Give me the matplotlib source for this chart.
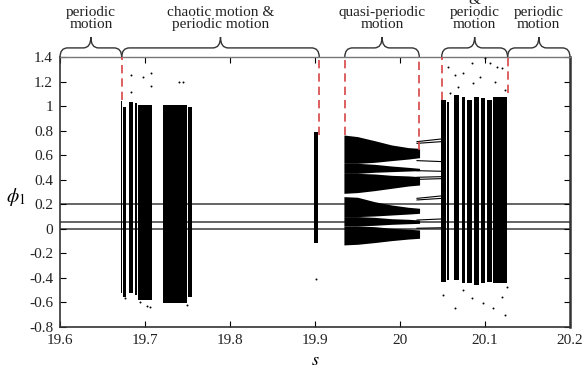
import numpy as np
import matplotlib
matplotlib.use('Agg')
import matplotlib.pyplot as plt
from matplotlib.path import Path
from matplotlib.patches import PathPatch
from matplotlib.ticker import FuncFormatter

plt.rcParams['font.family'] = 'Liberation Serif'
plt.rcParams['mathtext.fontset'] = 'stix'
plt.rcParams['axes.unicode_minus'] = False

# periodic solutions running across the whole range of s
periodic_levels = [0.2, 0.06, 0.0]

# chaotic bands: s start, s end, lowest and highest phi1
band_start = [19.6720, 19.6745, 19.6816, 19.6878, 19.6914, 19.7216, 19.7510, 19.8988,
              20.0478, 20.0549, 20.0635, 20.0725, 20.0784, 20.0875, 20.0949, 20.1020, 20.1098]
band_end = [19.6733, 19.6773, 19.6863, 19.6902, 19.7078, 19.7498, 19.7549, 19.9039,
            20.0537, 20.0573, 20.0698, 20.0765, 20.0851, 20.0933, 20.1000, 20.1078, 20.1263]
band_low = [-0.525, -0.552, -0.525, -0.539, -0.580, -0.607, -0.552, -0.117,
            -0.430, -0.416, -0.416, -0.444, -0.444, -0.457, -0.444, -0.430, -0.444]
band_high = [1.047, 0.999, 1.039, 1.026, 1.012, 1.012, 0.999, 0.794,
             1.053, 1.040, 1.094, 1.080, 1.053, 1.080, 1.067, 1.053, 1.080]

# scattered points outside the dense bands
dot_s = [19.9012, 19.6832, 19.6980, 19.7067, 19.7067, 19.7400, 19.6832, 19.7447,
         19.6941, 19.7020, 19.7059, 19.7490, 19.6765,
         20.0569, 20.0843, 20.1000, 20.1059, 20.1137, 20.1196, 20.0647, 20.0745,
         20.0941, 20.0863, 20.0686, 20.1118, 20.1235, 20.0588,
         20.0647, 20.0843, 20.1098, 20.1196, 20.0510, 20.0980, 20.0745, 20.1255, 20.1235]
dot_phi = [-0.408, 1.257, 1.243, 1.271, 1.167, 1.202, 1.121, 1.200,
           -0.594, -0.629, -0.634, -0.620, -0.566,
           1.325, 1.352, 1.393, 1.352, 1.325, 1.312, 1.257, 1.271,
           1.243, 1.189, 1.162, 1.202, 1.135, 1.108,
           -0.647, -0.566, -0.647, -0.553, -0.539, -0.607, -0.498, -0.471, -0.700]

# quasi-periodic region: envelopes of the six sub-bands
s_q = [19.934, 19.95, 19.97, 19.99, 20.01, 20.023]
qa_hi = [0.767, 0.754, 0.721, 0.686, 0.664, 0.658]
qa_lo = [0.536, 0.536, 0.544, 0.558, 0.571, 0.582]
qb_hi = [0.536, 0.536, 0.528, 0.514, 0.503, 0.495]
qb_lo = [0.454, 0.454, 0.463, 0.468, 0.473, 0.476]
qc_hi = [0.454, 0.454, 0.449, 0.438, 0.433, 0.427]
qc_lo = [0.291, 0.297, 0.313, 0.332, 0.351, 0.359]
qd_hi = [0.264, 0.259, 0.223, 0.196, 0.177, 0.169]
qd_lo = [0.101, 0.101, 0.106, 0.114, 0.122, 0.128]
qe_hi = [0.101, 0.101, 0.095, 0.084, 0.079, 0.073]
qe_lo = [0.025, 0.025, 0.030, 0.038, 0.043, 0.046]
qf_hi = [0.025, 0.025, 0.019, 0.006, -0.002, -0.008]
qf_lo = [-0.130, -0.125, -0.111, -0.095, -0.082, -0.076]

# short periodic branches before the last chaotic window
branch_s = [20.020, 20.049]
branch_left = [0.713, 0.699, 0.558, 0.476, 0.422, 0.405, 0.250, 0.237, 0.073, 0.006]
branch_right = [0.735, 0.713, 0.550, 0.471, 0.427, 0.411, 0.270, 0.250, 0.082, 0.010]

# region boundaries (red dashes) and the labelled braces
boundary_s = [19.6726, 19.905, 19.935, 20.0227, 20.049, 20.1266]
boundary_top = [1.05, 0.77, 0.77, 0.645, 1.05, 1.11]
brace_left = [19.6, 19.6726, 19.935, 20.049, 20.1266]
brace_right = [19.6726, 19.905, 20.0227, 20.1266, 20.2]
brace_labels = ['periodic\nmotion', 'chaotic motion &\nperiodic motion',
                'quasi-periodic\nmotion', '&\nperiodic\nmotion', 'periodic\nmotion']

xticks = [19.6, 19.7, 19.8, 19.9, 20.0, 20.1, 20.2]
yticks = [-0.8, -0.6, -0.4, -0.2, 0, 0.2, 0.4, 0.6, 0.8, 1.0, 1.2, 1.4]

fig = plt.figure(figsize=(5.82, 3.72), dpi=100)
ax = fig.add_axes([0.1031, 0.121, 0.8763, 0.7245])

ax.hlines(periodic_levels, 19.6, 20.2, colors='#3a3a3a', lw=1.1, zorder=1)

bs = np.array(band_start)
be = np.array(band_end)
bl = np.array(band_low)
bh = np.array(band_high)
ax.bar((bs + be) / 2, bh - bl, width=be - bs, bottom=bl, color='black', lw=0, zorder=2)

for lo, hi in [(qa_lo, qa_hi), (qb_lo, qb_hi), (qc_lo, qc_hi),
               (qd_lo, qd_hi), (qe_lo, qe_hi), (qf_lo, qf_hi)]:
    ax.fill_between(s_q, lo, hi, color='black', lw=0, zorder=2)

for a, b in zip(branch_left, branch_right):
    ax.plot(branch_s, [a, b], color='black', lw=0.8, zorder=2)

ax.scatter(dot_s, dot_phi, s=2, color='black', lw=0, zorder=3)

ax.vlines(boundary_s, boundary_top, 1.4, colors='#d64545', lw=1.2,
          linestyles=(0, (5, 3)), zorder=4)

# curly braces above the plot
y0, y1, y2 = 1.4, 1.478, 1.567
for x1, x2, lab in zip(brace_left, brace_right, brace_labels):
    xm = (x1 + x2) / 2
    r = min(0.009, (x2 - x1) / 4)
    verts = [(x1, y0), (x1, y1), (x1 + r, y1), (xm - r, y1), (xm, y1), (xm, y2),
             (xm, y1), (xm + r, y1), (x2 - r, y1), (x2, y1), (x2, y0)]
    codes = [Path.MOVETO, Path.CURVE3, Path.CURVE3, Path.LINETO, Path.CURVE3, Path.CURVE3,
             Path.CURVE3, Path.CURVE3, Path.LINETO, Path.CURVE3, Path.CURVE3]
    ax.add_patch(PathPatch(Path(verts, codes), fc='none', ec='#333333', lw=1.0,
                           clip_on=False))
    ax.text(xm, 1.615, lab, ha='center', va='bottom', fontsize=11,
            linespacing=0.9, color='#222222', clip_on=False)

ax.set_xlim(19.6, 20.2)
ax.set_ylim(-0.8, 1.4)
ax.set_xticks(xticks)
ax.set_yticks(yticks)
fmt = FuncFormatter(lambda v, p: '%g' % round(v, 2))
ax.xaxis.set_major_formatter(fmt)
ax.yaxis.set_major_formatter(fmt)
ax.tick_params(direction='in', length=4, width=0.8, top=True, right=True,
               labelsize=11, labelcolor='#222222', pad=5)

for side in ['left', 'bottom']:
    ax.spines[side].set_linewidth(1.2)
    ax.spines[side].set_color('#333333')
ax.spines['right'].set_linewidth(1.8)
ax.spines['right'].set_color('#333333')
ax.spines['top'].set_linewidth(1.0)
ax.spines['top'].set_color('#777777')

ax.set_xlabel('$s$', fontsize=13)
ax.xaxis.set_label_coords(0.5, -0.092)
ax.set_ylabel(r'$\phi_1$', fontsize=14, rotation=0)
ax.yaxis.set_label_coords(-0.086, 0.44)

fig.savefig('out.png', dpi=100)
